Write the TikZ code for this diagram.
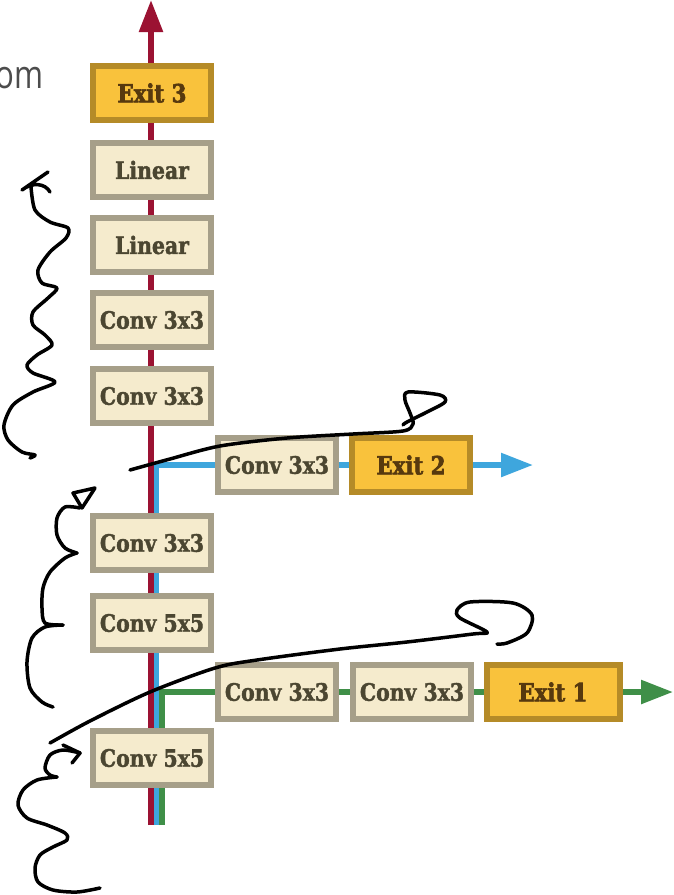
\documentclass[tikz,border=0pt]{standalone}
\usepackage{fontspec}
\newfontfamily\layerfont[FakeStretch=0.85, FakeBold=1.6]{DejaVu Serif}
\newfontfamily\exitfont[FakeStretch=0.85, FakeBold=2.6]{DejaVu Serif}
\newfontfamily\notefont[FakeStretch=0.8]{Open Sans}
\usetikzlibrary{arrows.meta,backgrounds}

\definecolor{netred}{HTML}{9B1232}
\definecolor{netblue}{HTML}{3EA6DD}
\definecolor{netgreen}{HTML}{3F8F48}
\definecolor{boxfill}{HTML}{F5EBCD}
\definecolor{boxline}{HTML}{A69F89}
\definecolor{exitfill}{HTML}{F9C23C}
\definecolor{exitline}{HTML}{B58B28}
\definecolor{boxtext}{HTML}{4B4631}
\definecolor{exittext}{HTML}{57390E}

\begin{document}
\begin{tikzpicture}[x=1pt, y=-1pt,
    layer/.style={draw=boxline, fill=boxfill, line width=6pt, minimum width=118pt,
        minimum height=54pt, inner sep=0pt, text=boxtext,
        font=\layerfont\bfseries\fontsize{24}{24}\selectfont},
    exitbox/.style={layer, draw=exitline, fill=exitfill, text=exittext,
        font=\exitfont\bfseries\fontsize{25}{25}\selectfont},
    flow/.style={line width=5.5pt, -{Triangle[length=32pt, width=23pt]}},
    ink/.style={black, line width=3.5pt, line cap=round, line join=round}]

    \useasboundingbox (0,0) rectangle (674,895);

    % ---main trunk
    \node[exitbox] (exit3) at (152,93) {Exit 3};
    \node[layer] (lin1) at (152,170) {Linear};
    \node[layer] (lin2) at (152,245) {Linear};
    \node[layer] (conv1) at (152,320) {Conv 3x3};
    \node[layer] (conv2) at (152,396) {Conv 3x3};
    \node[layer] (conv3) at (152,543) {Conv 3x3};
    \node[layer] (conv4) at (152,623) {Conv 5x5};
    \node[layer] (conv5) at (152,758) {Conv 5x5};

    % ---exit 2 branch
    \node[layer] (b2conv) at (277,465) {Conv 3x3};
    \node[exitbox] (exit2) at (411,465) {Exit 2};

    % ---exit 1 branch
    \node[layer] (b1conva) at (277,692) {Conv 3x3};
    \node[layer] (b1convb) at (412,692) {Conv 3x3};
    \node[exitbox, minimum width=133pt] (exit1) at (553,692) {Exit 1};

    % ---paths behind the boxes
    \coordinate (redbot) at (151,825);
    \coordinate (redtip) at (151,0);
    \coordinate (bluebot) at (156.5,825);
    \coordinate (bluetip) at (533,465);
    \coordinate (greenbot) at (162,825);
    \coordinate (greentip) at (673,692);
    \begin{scope}[on background layer]
        \fill[white] (0,0) rectangle (674,895);
        \draw[flow, netred] (redbot) -- (redtip);
        \draw[flow, netblue] (bluebot) |- (bluetip);
        \draw[flow, netgreen] (greenbot) |- (greentip);
    \end{scope}

    % ---left over from the slide
    \begin{scope}
        \clip (0,0) rectangle (674,895);
        \node[anchor=base east, inner sep=0pt, text=black!70,
            font=\notefont\fontsize{39}{39}\selectfont] (note) at (44,88) {om};
    \end{scope}

    % ---pen marks
    \draw[ink] (48,172) -- (22,190) .. controls (32,182) and (45,183) .. (50,192);
    \draw[ink] plot[smooth] coordinates {(31,187) (35,210) (50,222) (68,228) (66,238)
        (50,252) (38,270) (42,283) (57,288) (48,298) (33,312) (33,325) (45,335) (52,345)
        (37,355) (27,365) (33,373) (55,382) (33,392) (13,405) (4,425) (8,440) (22,452)
        (35,455) (30,458)};

    \draw[ink] plot[smooth] coordinates {(130,470) (170,459) (220,446) (287,438)
        (353,434) (403,431) (413,424) (410,413) (405,400) (408,392) (440,395) (445,402)
        (427,412) (407,422) (403,425)};

    \draw[ink] plot[smooth] coordinates {(50,743) (90,721) (150,692) (215,668)
        (257,660) (340,649) (407,642) (473,634) (487,632) (460,618) (457,610) (470,602)
        (513,603) (532,615) (527,633) (507,643) (497,644)};

    \draw[ink] (73,493) -- (95,488) -- (82,508) -- cycle;
    \draw[ink] plot[smooth] coordinates {(80,508) (65,507) (57,518) (57,535) (65,548) (77,553)};
    \draw[ink] plot[smooth] coordinates {(77,553) (65,558) (50,572) (43,588) (42,608)
        (45,623) (63,625)};
    \draw[ink] plot[smooth] coordinates {(63,625) (45,627) (32,638) (27,662) (30,688)
        (42,702) (53,707)};

    \draw[ink] (63,745) -- (80,753) -- (72,763);
    \draw[ink] plot[smooth] coordinates {(80,753) (63,750) (50,755) (45,768) (50,775) (57,777)};
    \draw[ink] plot[smooth] coordinates {(57,777) (37,780) (23,790) (18,805) (27,818)
        (47,825) (65,833) (67,840) (53,847) (40,855) (35,868) (38,882) (53,890) (77,892)
        (100,888)};
\end{tikzpicture}
\end{document}
